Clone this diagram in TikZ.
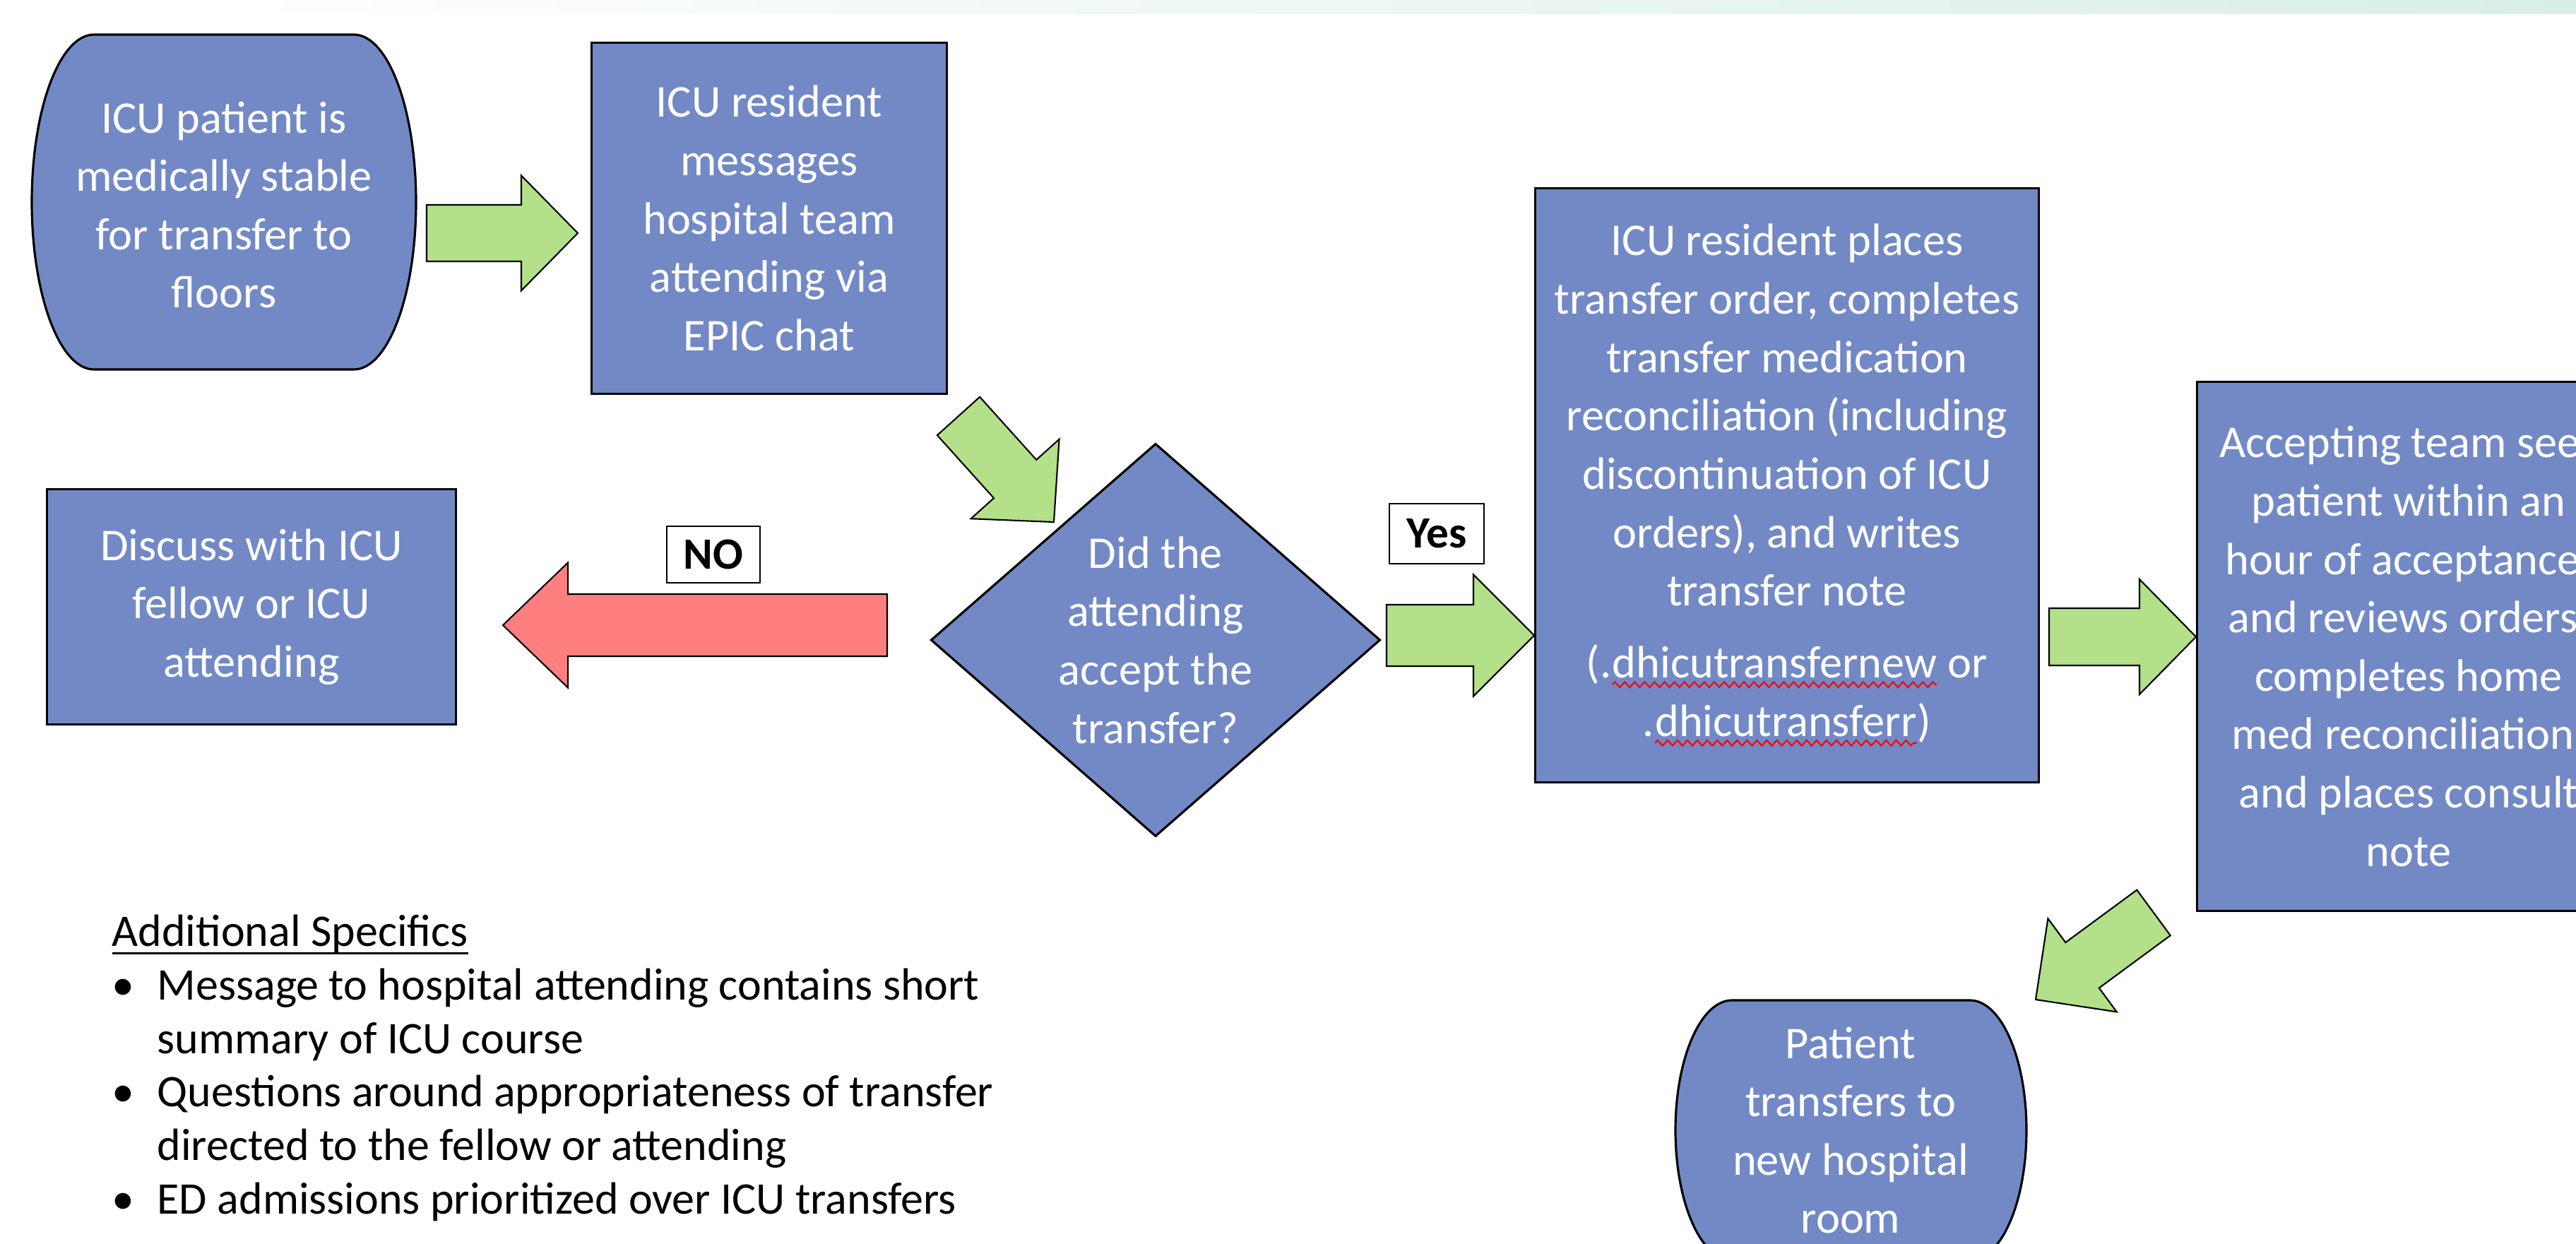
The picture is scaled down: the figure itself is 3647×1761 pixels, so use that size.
\documentclass[tikz,border=0pt]{standalone}
\usepackage{fontspec}
\setmainfont{Carlito}
\usetikzlibrary{calc,shapes.geometric,decorations.pathmorphing}
\definecolor{nodeblue}{RGB}{114,137,198}
\definecolor{agreen}{RGB}{179,224,137}
\definecolor{ared}{RGB}{255,127,127}
\definecolor{bandteal}{RGB}{218,238,232}
\newcommand\nodefont{\fontsize{18.3}{23.5}\selectfont}
\newcommand\listfont{\fontsize{18.2}{21.5}\selectfont}
\newcommand\lblfont{\fontsize{18}{22}\selectfont\bfseries}
\newcommand\ulx[1]{\vtop{\hbox{\raisebox{0pt}[\height][0pt]{#1}}\kern2.2pt\hrule height 0.8pt}}
\newcommand\sqw[1]{\tikz[baseline=(sqn.base), x=1cm, y=1cm]{%
  \node[draw=none, fill=none, inner sep=0pt, outer sep=0pt, minimum width=0pt, minimum height=0pt, text=white, anchor=base] (sqn) at (0,0) {#1};
  \draw[draw=red, fill=none, line width=0.6pt, decorate, decoration={zigzag, amplitude=1.1pt, segment length=4pt}]
    ([yshift=-2.6pt]sqn.base west) -- ([yshift=-2.6pt]sqn.base east);}}
\newcommand\blt{\makebox[0.64cm][l]{\textbullet}}
\newcommand\blockarrow[6]{%
  \coordinate (bah) at ($(#3)!#6!(#2)$);
  \draw[arrowbody, fill=#1]
    ($(#2)!#4!90:(#3)$) -- ($(bah)!#4!90:(#3)$) -- ($(bah)!#5!90:(#3)$) -- (#3)
    -- ($(bah)!#5!-90:(#3)$) -- ($(bah)!#4!-90:(#3)$) -- ($(#2)!#4!-90:(#3)$) -- cycle;}
\tikzset{
  box/.style={draw=black, line width=0.9pt, fill=nodeblue, rectangle, inner sep=0pt},
  shapeline/.style={draw=black, line width=0.9pt, fill=nodeblue},
  txt/.style={text=white, align=center, font=\nodefont, inner sep=0pt},
  arrowbody/.style={draw=black, line width=0.6pt, line join=miter},
  lbl/.style={draw=black, line width=0.45pt, fill=white, font=\lblfont, inner sep=0pt},
}
\begin{document}
\begin{tikzpicture}[x=0.01cm, y=-0.01cm]
\useasboundingbox (0,0) rectangle (3647,1761);
\clip (0,0) rectangle (3647,1761);
\fill[white] (0,0) rectangle (3647,1761);
\shade[left color=white, right color=bandteal] (300,0) rectangle (3647,20);

% start terminator
\path[shapeline] (133,49) -- (501,49) .. controls (549.6,49) and (589,155.1) .. (589,286)
  .. controls (589,416.9) and (549.6,523) .. (501,523) -- (133,523)
  .. controls (84.4,523) and (45,416.9) .. (45,286)
  .. controls (45,155.1) and (84.4,49) .. (133,49) -- cycle;
\node[txt] (n1) at (317,290) {ICU patient is\\medically stable\\for transfer to\\floors};

\node[box, txt, minimum width=5.02cm, minimum height=4.96cm] (n2) at (1089,309)
  {ICU resident\\messages\\hospital team\\attending via\\EPIC chat};

\node[diamond, shapeline, minimum width=6.36cm, minimum height=5.56cm, inner sep=0pt] (dm) at (1636,906) {};
\node[txt] (dmt) at (dm.center) {Did the\\attending\\accept the\\transfer?};

\node[box, txt, minimum width=5.79cm, minimum height=3.33cm] (n0) at (356,859)
  {Discuss with ICU\\fellow or ICU\\attending};

\node[box, txt, minimum width=7.12cm, minimum height=8.40cm] (n3) at (2530,687)
  {ICU resident places\\transfer order, completes\\transfer medication\\reconciliation (including\\discontinuation of ICU\\orders), and writes\\transfer note\\[0.195cm](.\sqw{dhicutransfernew} or\\.\sqw{dhicutransferr})};

\node[box, txt, minimum width=5.98cm, minimum height=7.48cm] (n4) at (3410,915)
  {Accepting team sees\\patient within an\\hour of acceptance,\\and reviews orders,\\completes home\\med reconciliation,\\and places consult\\note};

% end terminator
\path[shapeline] (2452,1416) -- (2789,1416) .. controls (2833.2,1416) and (2869,1498.4) .. (2869,1600)
  .. controls (2869,1701.6) and (2833.2,1784) .. (2789,1784) -- (2452,1784)
  .. controls (2407.8,1784) and (2372,1701.6) .. (2372,1600)
  .. controls (2372,1498.4) and (2407.8,1416) .. (2452,1416) -- cycle;
\node[txt] (n5) at (2620,1600) {Patient\\transfers to\\new hospital\\room};

% labels
\node[lbl, minimum width=1.34cm, minimum height=0.85cm] (yes) at (2034,755.5) {Yes};
\node[lbl, minimum width=1.32cm, minimum height=0.80cm] (no) at (1010,785) {NO};

% block arrows
\coordinate (a1s) at (604,330);   \coordinate (a1e) at (818,330);
\coordinate (a2s) at (1357,589);  \coordinate (a2e) at (1492,739);
\coordinate (a3s) at (1256,885);  \coordinate (a3e) at (712,885);
\coordinate (a4s) at (1963,899.5);\coordinate (a4e) at (2172,899.5);
\coordinate (a5s) at (2901,901.5);\coordinate (a5e) at (3109,901.5);
\coordinate (a6s) at (3049,1292); \coordinate (a6e) at (2882,1415);
\blockarrow{agreen}{a1s}{a1e}{0.40cm}{0.815cm}{0.80cm}
\blockarrow{agreen}{a2s}{a2e}{0.405cm}{0.84cm}{0.82cm}
\blockarrow{ared}{a3s}{a3e}{0.44cm}{0.885cm}{0.92cm}
\blockarrow{agreen}{a4s}{a4e}{0.435cm}{0.86cm}{0.86cm}
\blockarrow{agreen}{a5s}{a5e}{0.405cm}{0.815cm}{0.80cm}
\blockarrow{agreen}{a6s}{a6e}{0.40cm}{0.82cm}{0.82cm}

% notes (anchor is the baseline of the last line)
\node[anchor=base west, align=left, font=\listfont, inner sep=0pt] (spec) at (158,1718)
  {\ulx{Additional Specifics}\\
   \blt Message to hospital attending contains short\\
   \hspace*{0.64cm}summary of ICU course\\
   \blt Questions around appropriateness of transfer\\
   \hspace*{0.64cm}directed to the fellow or attending\\
   \blt ED admissions prioritized over ICU transfers};
\end{tikzpicture}
\end{document}
